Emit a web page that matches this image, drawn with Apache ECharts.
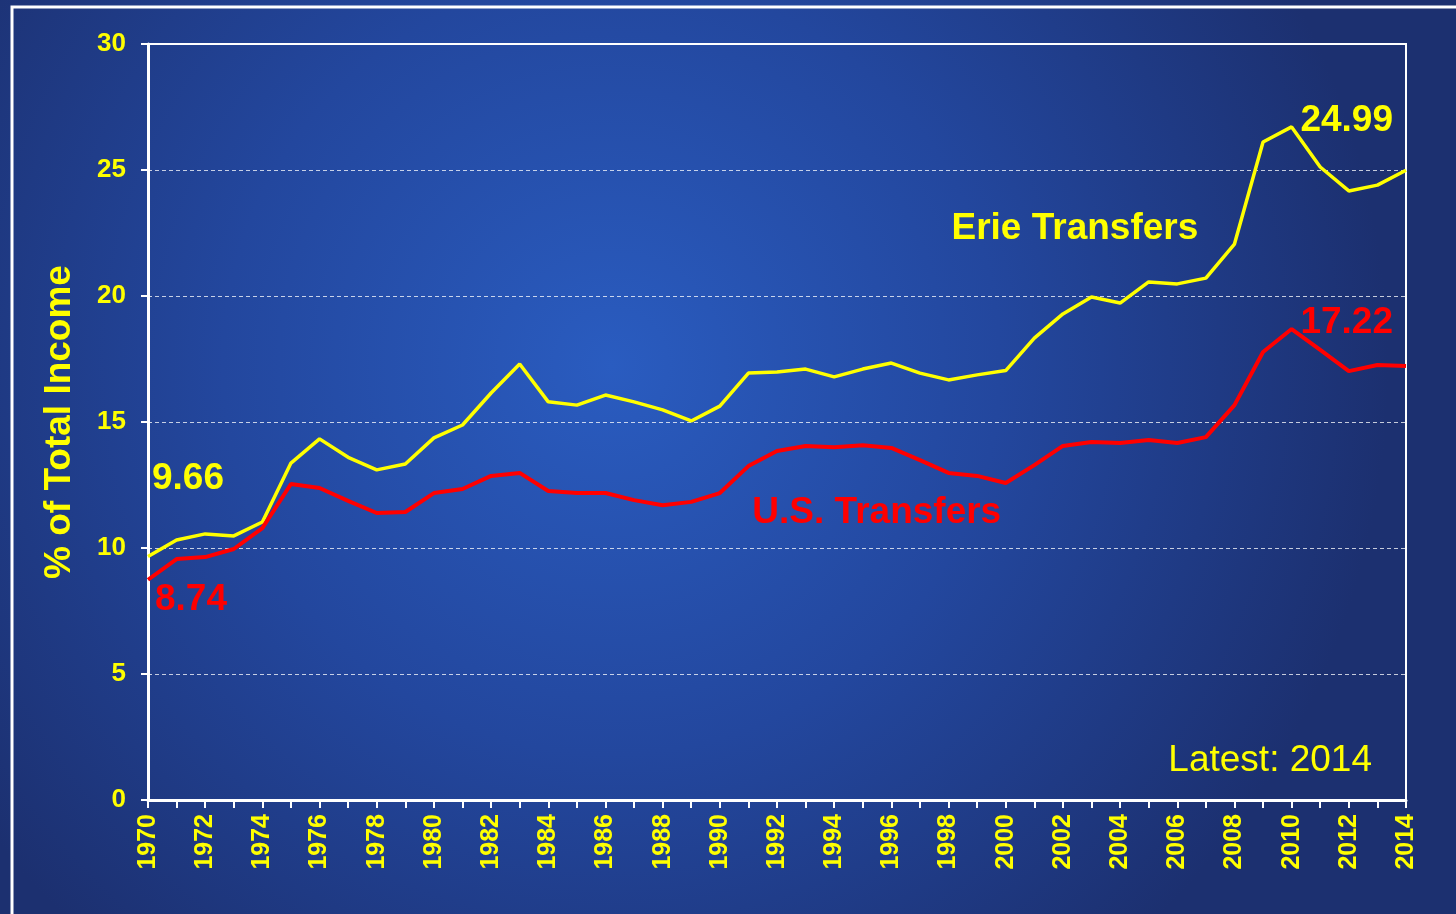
<!DOCTYPE html>
<html>
<head>
<meta charset="utf-8">
<script src="https://cdn.jsdelivr.net/npm/echarts@6/dist/echarts.min.js"></script>
<style>
html,body{margin:0;padding:0;background:#1d3270;}
#chart{width:1456px;height:914px;}
</style>
</head>
<body>
<div id="chart"></div>
<script>
const years = [];
for (let y = 1970; y <= 2014; y++) years.push(String(y));

const erieTransfers = [
  9.66, 10.32, 10.56, 10.48, 11.03, 13.37, 14.33, 13.60, 13.10, 13.33,
  14.37, 14.88, 16.15, 17.30, 15.80, 15.67, 16.07, 15.80, 15.48, 15.04,
  15.63, 16.94, 16.98, 17.10, 16.79, 17.10, 17.34, 16.94, 16.67, 16.87,
  17.04, 18.33, 19.29, 19.96, 19.72, 20.56, 20.48, 20.71, 22.06, 26.11,
  26.71, 25.12, 24.17, 24.40, 24.99
];
const usTransfers = [
  8.74, 9.56, 9.64, 9.96, 10.79, 12.54, 12.38, 11.87, 11.39, 11.43,
  12.18, 12.34, 12.86, 12.98, 12.26, 12.18, 12.18, 11.90, 11.70, 11.83,
  12.18, 13.25, 13.85, 14.05, 14.00, 14.08, 13.97, 13.49, 12.98, 12.86,
  12.58, 13.29, 14.05, 14.21, 14.17, 14.29, 14.17, 14.40, 15.67, 17.78,
  18.69, 17.86, 17.02, 17.26, 17.22
];
const yTicks = [0, 5, 10, 15, 20, 25, 30];

const YELLOW = '#ffff00';
const RED = '#ff0000';
const FONT = '"Liberation Sans", Arial, sans-serif';

const chart = echarts.init(document.getElementById('chart'));

function annot(text, color, coord, offset, align) {
  return {
    coord: coord,
    symbol: 'circle',
    symbolSize: 0,
    label: {
      show: true,
      formatter: text,
      color: color,
      fontFamily: FONT,
      fontWeight: 'bold',
      fontSize: 37,
      align: align,
      verticalAlign: 'middle',
      offset: offset,
      position: 'inside'
    }
  };
}

const last = years.length - 1;

chart.setOption({
  animation: false,
  backgroundColor: {
    type: 'radial', x: 0.42, y: 0.4, r: 0.85,
    colorStops: [
      { offset: 0, color: '#2a5cc0' },
      { offset: 0.5, color: '#23479e' },
      { offset: 1, color: '#1c3070' }
    ]
  },
  graphic: [
    {
      type: 'rect',
      shape: { x: 12, y: 7, width: 1600, height: 1000 },
      style: { fill: 'none', stroke: '#ffffff', lineWidth: 3 },
      silent: true
    },
    {
      type: 'text',
      right: 84,
      top: 742,
      style: {
        text: 'Latest: 2014',
        fill: YELLOW,
        font: '37px ' + FONT
      }
    }
  ],
  grid: {
    left: 148, right: 50, top: 44, bottom: 114,
    show: true, borderColor: '#ffffff', borderWidth: 2,
    backgroundColor: 'transparent'
  },
  xAxis: {
    type: 'category',
    data: years,
    boundaryGap: false,
    axisLine: { show: true, lineStyle: { color: '#ffffff', width: 3 } },
    axisTick: { show: true, interval: 0, length: 8, lineStyle: { color: '#ffffff', width: 2 } },
    axisLabel: {
      interval: 1, rotate: 90, color: YELLOW, fontFamily: FONT,
      fontWeight: 'bold', fontSize: 25, margin: 14
    },
    splitLine: { show: false }
  },
  yAxis: {
    type: 'value',
    min: yTicks[0], max: yTicks[yTicks.length - 1], interval: 5,
    name: '% of Total Income',
    nameLocation: 'middle',
    nameRotate: 90,
    nameGap: 70,
    nameTextStyle: { color: YELLOW, fontFamily: FONT, fontWeight: 'bold', fontSize: 37 },
    axisLine: { show: true, lineStyle: { color: '#ffffff', width: 3 } },
    axisTick: { show: true, length: 7, lineStyle: { color: '#ffffff', width: 2 } },
    axisLabel: { color: YELLOW, fontFamily: FONT, fontWeight: 'bold', fontSize: 26, margin: 22 },
    splitLine: { show: true, lineStyle: { color: 'rgba(255,255,255,0.75)', width: 1, type: [4, 3] } }
  },
  series: [
    {
      name: 'Erie Transfers',
      type: 'line',
      data: erieTransfers,
      symbol: 'none',
      lineStyle: { color: YELLOW, width: 3.5 },
      z: 3,
      markPoint: {
        silent: true,
        data: [
          annot(erieTransfers[0].toFixed(2), YELLOW, [years[0], erieTransfers[0]], [4, -78], 'left'),
          annot(erieTransfers[last].toFixed(2), YELLOW, [years[last], erieTransfers[last]], [-13, -49], 'right'),
          annot('Erie Transfers', YELLOW, ['2002', 22.78], [12, 3], 'center')
        ]
      }
    },
    {
      name: 'U.S. Transfers',
      type: 'line',
      data: usTransfers,
      symbol: 'none',
      lineStyle: { color: RED, width: 4 },
      z: 4,
      markPoint: {
        silent: true,
        data: [
          annot(usTransfers[0].toFixed(2), RED, [years[0], usTransfers[0]], [7, 20], 'left'),
          annot(usTransfers[last].toFixed(2), RED, [years[last], usTransfers[last]], [-13, -43], 'right'),
          annot('U.S. Transfers', RED, ['1995', 11.51], [14, 3], 'center')
        ]
      }
    }
  ]
});
</script>
</body>
</html>
